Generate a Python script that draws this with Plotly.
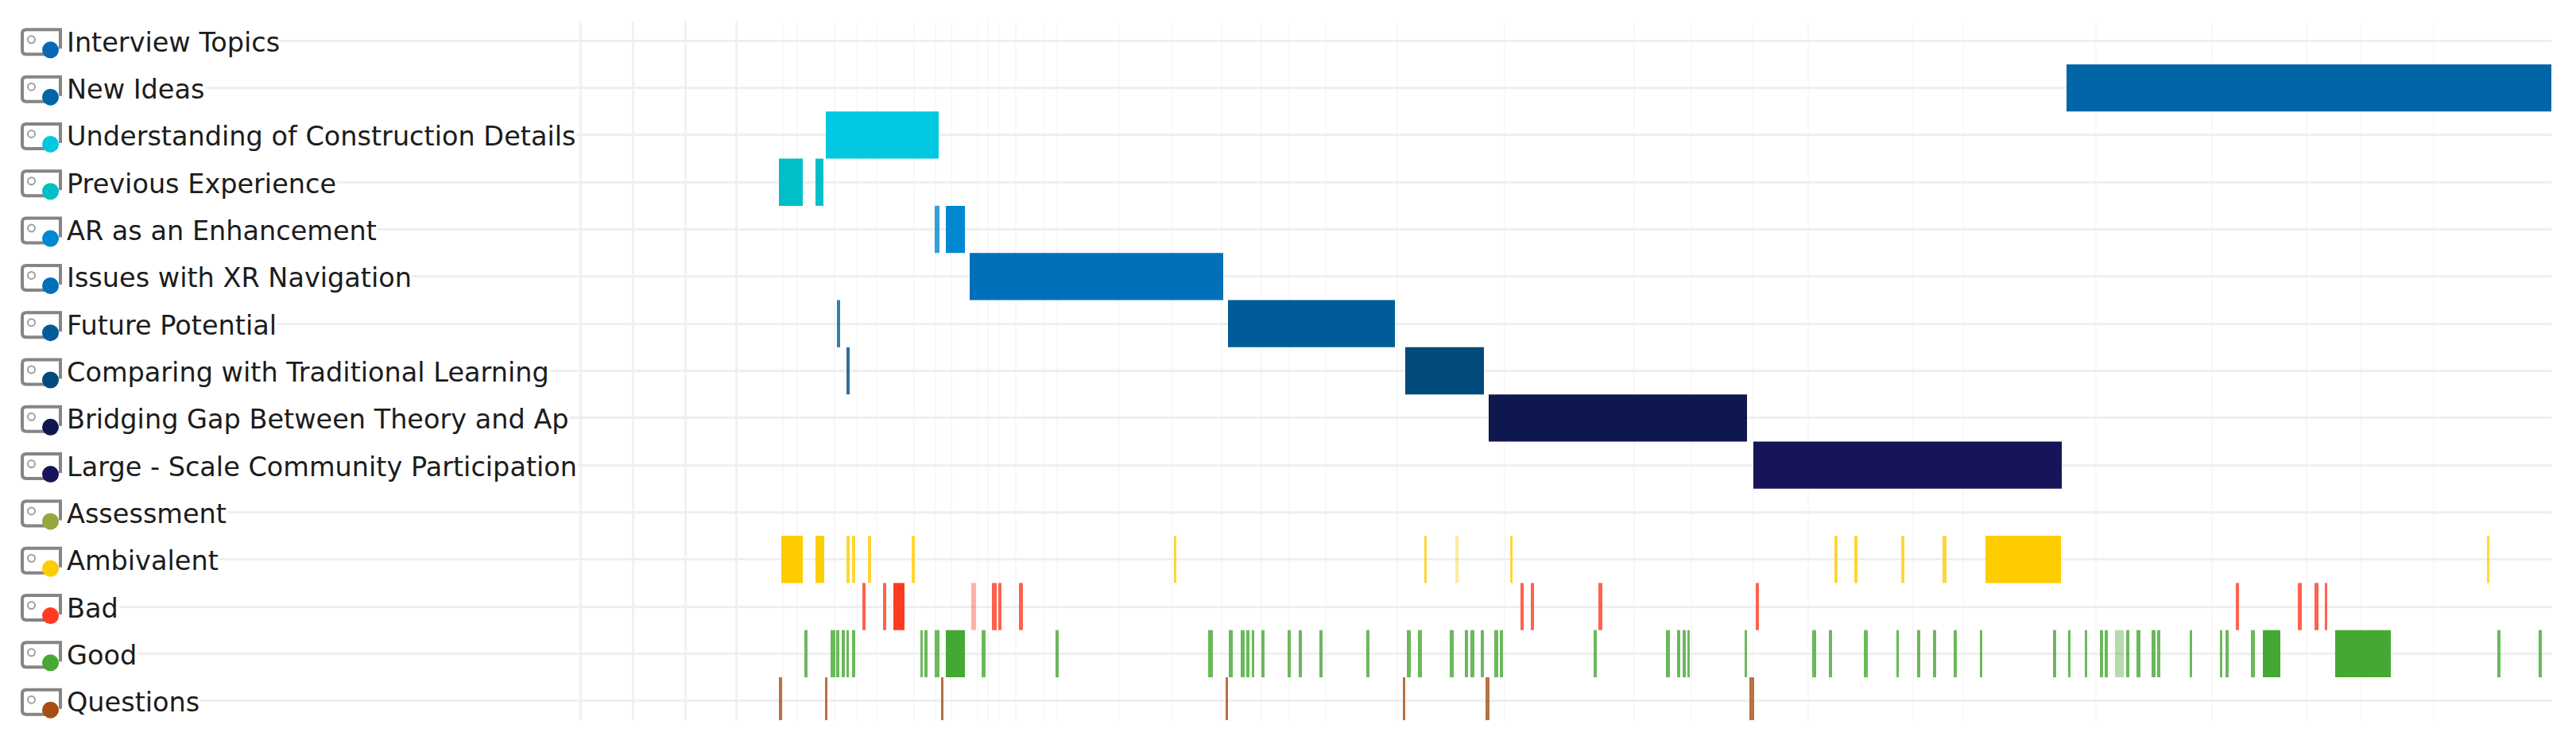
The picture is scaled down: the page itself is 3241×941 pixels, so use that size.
"""Coded-segment timeline of an interview: one row per code."""

import plotly.graph_objects as go

codes = [
    "Interview Topics", "New Ideas", "Understanding of Construction Details",
    "Previous Experience", "AR as an Enhancement", "Issues with XR Navigation",
    "Future Potential", "Comparing with Traditional Learning",
    "Bridging Gap Between Theory and Ap", "Large - Scale Community Participation",
    "Assessment", "Ambivalent", "Bad", "Good", "Questions",
]
code_colors = [
    "#0a67b5", "#0066a8", "#00c8e0", "#00bfc8", "#0088d0",
    "#0070bb", "#005c99", "#004a7c", "#0f174f", "#17145a",
    "#96a83c", "#ffcc00", "#ff3b1f", "#45a832", "#a84d14",
]

# (start, end) of each coded segment along the transcript
interview_topics = []
new_ideas = [(1622, 2232)]
understanding = [(61, 203)]
previous_experience = [(2, 32), (48, 58)]
ar_enhancement = [(198, 204), (212, 236)]
xr_navigation = [(242, 561)]
future_potential = [(75, 79), (567, 777)]
traditional_learning = [(87, 91), (790, 889)]
bridging_gap = [(895, 1220)]
community = [(1228, 1616)]
assessment = []
ambivalent = [
    (5, 32), (48, 59), (87, 91), (94, 98), (114, 118), (169, 173), (499, 502),
    (814, 817), (853, 857), (922, 925), (1330, 1334), (1355, 1359),
    (1414, 1418), (1466, 1471), (1520, 1615), (2151, 2154),
]
bad = [
    (107, 111), (133, 137), (146, 160), (244, 250), (270, 276), (278, 282),
    (304, 309), (935, 939), (948, 952), (1033, 1038), (1231, 1235),
    (1835, 1839), (1913, 1918), (1934, 1939), (1947, 1950),
]
good = [
    (34, 38), (67, 73), (74, 78), (81, 85), (87, 90), (94, 98), (180, 183),
    (185, 189), (198, 204), (212, 236), (257, 262), (350, 354), (542, 548),
    (568, 573), (583, 588), (590, 594), (597, 600), (609, 613), (642, 646),
    (656, 660), (682, 686), (741, 745), (792, 797), (806, 811), (846, 851),
    (865, 869), (872, 877), (885, 889), (902, 907), (909, 913), (1027, 1031),
    (1118, 1123), (1132, 1136), (1139, 1143), (1145, 1148), (1217, 1220),
    (1302, 1307), (1323, 1327), (1367, 1372), (1408, 1411), (1434, 1438),
    (1454, 1458), (1480, 1484), (1513, 1516), (1605, 1609), (1624, 1627),
    (1645, 1648), (1664, 1668), (1670, 1674), (1683, 1694), (1697, 1701),
    (1710, 1715), (1729, 1734), (1736, 1740), (1777, 1780), (1815, 1818),
    (1822, 1826), (1854, 1859), (1869, 1891), (1960, 2030), (2164, 2168),
    (2216, 2220),
]
questions = [(2, 6), (60, 63), (206, 209), (564, 567), (787, 790), (891, 896), (1223, 1229)]

segments = [
    interview_topics, new_ideas, understanding, previous_experience,
    ar_enhancement, xr_navigation, future_potential, traditional_learning,
    bridging_gap, community, assessment, ambivalent, bad, good, questions,
]
# Segments drawn visibly paler than the rest of their row
pale_segments = [(853, 857), (244, 250), (1683, 1694)]

# Vertical grid: the four stronger lines left of the transcript, faint ones over it
label_grid = [-248, -182, -116, -52]
transcript_grid = [
    7, 25, 72, 100, 125, 172, 199, 219, 252, 265, 279, 300, 335, 352, 430, 497,
    559, 609, 644, 690, 780, 915, 1078, 1150, 1228, 1297, 1429, 1492, 1659,
    1805, 1924, 1993, 2084,
]


def span_opacity(span):
    if span in pale_segments:
        return 0.4
    return 1 if span[1] - span[0] >= 9 else 0.8


fig = go.Figure()

for row, (spans, color) in enumerate(zip(segments, code_colors)):
    if not spans:
        continue
    fig.add_trace(
        go.Bar(
            orientation="h",
            y=[row] * len(spans),
            base=[s for s, e in spans],
            x=[e - s for s, e in spans],
            width=1,
            marker=dict(color=color, line_width=0, opacity=[span_opacity(sp) for sp in spans]),
            name=codes[row],
            showlegend=False,
        )
    )

# Row labels and their tag icons sit left of the plot area
annotations = []
shapes = []
TAG_OUTLINE = "M -9 -10 L -9 14 L -52 14 Q -57 14 -57 9 L -57 -12 Q -57 -17 -52 -17 L -20 -17"
for row, (code, color) in enumerate(zip(codes, code_colors)):
    annotations.append(
        dict(
            text=code, x=0, xref="paper", y=row, yref="y", xshift=-2, yshift=-2,
            xanchor="left", yanchor="middle", showarrow=False, bgcolor="#ffffff",
            borderpad=0, font=dict(family="DejaVu Sans", size=33.5, color="#1c1c1c"),
        )
    )
    pixel_shape = dict(
        xref="paper", xsizemode="pixel", xanchor=0,
        yref="y", ysizemode="pixel", yanchor=row,
    )
    shapes.append(dict(type="path", path=TAG_OUTLINE, line=dict(color="#858585", width=4), **pixel_shape))
    shapes.append(dict(type="circle", x0=-50, x1=-41, y0=-3, y1=6, line=dict(color="#a0a0a0", width=2), **pixel_shape))
    shapes.append(dict(type="circle", x0=-32, x1=-11, y0=-22, y1=-1, fillcolor=color, line_width=0, **pixel_shape))

# The page body keeps an 8px margin, so the figure starts at (8, 8)
fig.update_layout(
    width=3225,
    height=925,
    autosize=False,
    margin=dict(l=77, r=23, t=19, b=27),
    paper_bgcolor="#ffffff",
    plot_bgcolor="#ffffff",
    barmode="overlay",
    showlegend=False,
    annotations=annotations,
    shapes=shapes,
)
fig.update_xaxes(
    range=[-893, 2232],
    tickmode="array",
    tickvals=transcript_grid,
    showticklabels=False,
    ticks="",
    zeroline=False,
    showline=False,
    showgrid=True,
    gridcolor="#f8f8f8",
    gridwidth=2,
    minor=dict(tickmode="array", tickvals=label_grid, showgrid=True, gridcolor="#f1f1f1", gridwidth=3, ticks=""),
)
fig.update_yaxes(
    range=[14.41, -0.41],
    tickmode="array",
    tickvals=list(range(len(codes))),
    showticklabels=False,
    ticks="",
    zeroline=False,
    showline=False,
    showgrid=True,
    gridcolor="#efefef",
    gridwidth=3,
)

fig.write_html("out.html")
